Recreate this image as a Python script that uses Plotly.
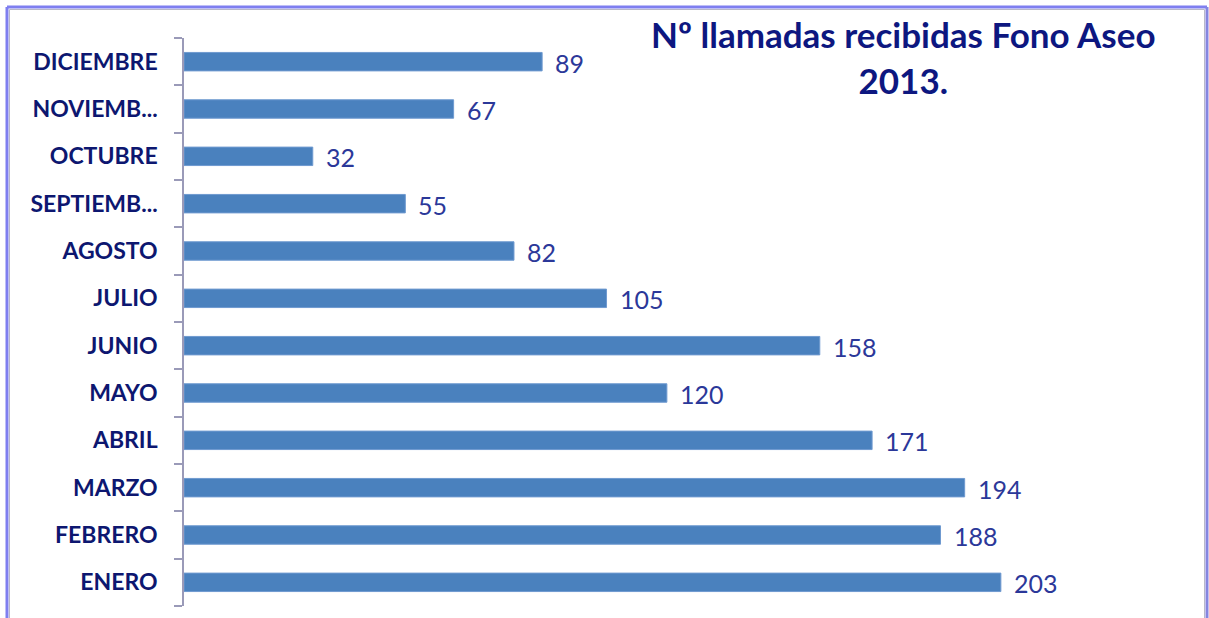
import plotly.graph_objects as go

months = ["ENERO", "FEBRERO", "MARZO", "ABRIL", "MAYO", "JUNIO", "JULIO",
          "AGOSTO", "SEPTIEMB...", "OCTUBRE", "NOVIEMB...", "DICIEMBRE"]
calls = [203, 188, 194, 171, 120, 158, 105, 82, 55, 32, 67, 89]
title_text = "Nº llamadas recibidas Fono Aseo<br>2013."

W, H = 1209, 618
L, R, T, B = 184, 19, 38, 12
pw, ph = W - L - R, H - T - B

def px(x):
    return (x - L) / pw

def py(y):
    return (H - B - y) / ph

fig = go.Figure()
fig.add_trace(go.Bar(
    x=calls, y=months, orientation="h",
    marker=dict(color="#4a81be", line=dict(color="#6f9ad0", width=1)),
    width=0.39, hoverinfo="x+y",
))

for m, v in zip(months, calls):
    fig.add_annotation(x=v, y=m, text=str(v), showarrow=False, xanchor="left",
                       xshift=11, yshift=-1,
                       font=dict(family="Lato", size=25, color="#2b3899"))

fig.add_annotation(xref="paper", yref="paper", x=px(903), y=py(57), text=title_text,
                   showarrow=False, xanchor="center", yanchor="middle",
                   font=dict(family="Lato", size=35, color="#0d1780", weight="bold"),
                   align="center")

# frame
shapes = [
    dict(type="line", xref="paper", yref="paper", x0=px(7), x1=px(7), y0=py(7), y1=py(640),
         line=dict(color="#7f7ff0", width=3)),
    dict(type="line", xref="paper", yref="paper", x0=px(7), x1=px(1207), y0=py(7), y1=py(7),
         line=dict(color="#7f7ff0", width=3)),
    dict(type="line", xref="paper", yref="paper", x0=px(1207), x1=px(1207), y0=py(7), y1=py(640),
         line=dict(color="#8585e0", width=3)),
    dict(type="line", xref="paper", yref="paper", x0=px(9.5), x1=px(9.5), y0=py(9.5), y1=py(640),
         line=dict(color="#b8b8c8", width=1)),
    dict(type="line", xref="paper", yref="paper", x0=px(9.5), x1=px(1204.5), y0=py(9.5), y1=py(9.5),
         line=dict(color="#b8b8c8", width=1)),
    dict(type="line", xref="paper", yref="paper", x0=px(1204.5), x1=px(1204.5), y0=py(9.5), y1=py(640),
         line=dict(color="#b8b8c8", width=1)),
]

fig.update_layout(
    width=W, height=H,
    margin=dict(l=L, r=R, t=T, b=B),
    paper_bgcolor="white", plot_bgcolor="white",
    showlegend=False,
    shapes=shapes,
    xaxis=dict(range=[0, 250], showgrid=False, zeroline=False, showticklabels=False,
               showline=False, ticks=""),
    yaxis=dict(type="category", categoryorder="array", categoryarray=months,
               showline=True, linecolor="#9a9ab8", linewidth=1.5,
               ticks="outside", tickson="boundaries", ticklen=8, tickcolor="#9a9ab8",
               tickwidth=1.5, ticklabelstandoff=20, showgrid=False,
               tickfont=dict(family="Lato", size=23, color="#0d1770", weight="bold")),
)

fig.write_html("out.html", config={"displayModeBar": False},
               post_script="document.body.style.margin='0';document.body.style.overflow='hidden';")
